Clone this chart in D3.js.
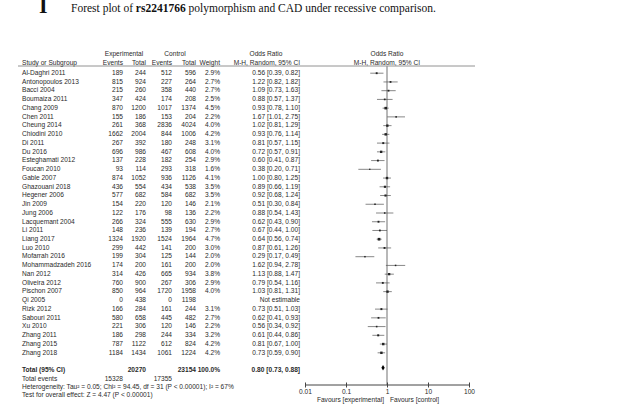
<!DOCTYPE html>
<html>
  <head>
    <meta charset="utf-8">
    <title>Forest plot rs2241766</title>
<style>
body { margin: 0; background: #fff; }
svg text { font-family: "Liberation Sans", Arial, sans-serif; fill: #2a2a2a; }
.title { font-family: "Liberation Serif", "Times New Roman", serif; fill: #111; }
.axis path, .axis line { stroke: #444; }
</style>
    <script src="https://d3js.org/d3.v7.min.js"></script>
  </head>
  <body>
    <script type="text/javascript">

    // study data
    var studies = ["Al-Daghri 2011", "Antonopoulos 2013", "Bacci 2004", "Boumaiza 2011", "Chang 2009",
      "Chen 2011", "Cheung 2014", "Chiodini 2010", "Di 2011", "Du 2016", "Esteghamati 2012",
      "Foucan 2010", "Gable 2007", "Ghazouani 2018", "Hegener 2006", "Jin 2009", "Jung 2006",
      "Lacquemant 2004", "Li 2011", "Liang 2017", "Luo 2010", "Mofarrah 2016", "Mohammadzadeh 2016",
      "Nan 2012", "Oliveira 2012", "Pischon 2007", "Qi 2005", "Rizk 2012", "Sabouri 2011",
      "Xu 2010", "Zhang 2011", "Zhang 2015", "Zhang 2018"];
    var expEvents = [189, 815, 215, 347, 870, 155, 261, 1662, 267, 696, 137, 93, 874, 436, 577, 154, 122,
      266, 148, 1324, 299, 199, 174, 314, 760, 850, 0, 166, 580, 221, 186, 787, 1184];
    var expTotal = [244, 924, 260, 424, 1200, 186, 368, 2004, 392, 986, 228, 114, 1052, 554, 682, 220, 176,
      324, 236, 1920, 442, 304, 200, 426, 900, 964, 438, 284, 658, 306, 298, 1122, 1434];
    var ctlEvents = [512, 227, 358, 174, 1017, 153, 2836, 844, 180, 467, 182, 293, 936, 434, 584, 120, 98,
      555, 139, 1524, 141, 125, 161, 665, 267, 1720, 0, 161, 445, 120, 244, 612, 1061];
    var ctlTotal = [596, 264, 440, 208, 1374, 204, 4024, 1006, 248, 608, 254, 318, 1126, 538, 682, 146, 136,
      630, 194, 1964, 200, 144, 200, 934, 306, 1958, 1198, 244, 482, 146, 334, 824, 1224];
    var weights = [2.9, 2.7, 2.7, 2.5, 4.5, 2.2, 4.0, 4.2, 3.1, 4.0, 2.9, 1.6, 4.1, 3.5, 3.5, 2.1, 2.2,
      2.9, 2.7, 4.7, 3.0, 2.0, 2.0, 3.8, 2.9, 4.0, null, 3.1, 2.7, 2.2, 3.2, 4.2, 4.2];
    var orVals = [0.56, 1.22, 1.09, 0.88, 0.93, 1.67, 1.02, 0.93, 0.81, 0.72, 0.60, 0.38, 1.00, 0.89, 0.92,
      0.51, 0.88, 0.62, 0.67, 0.64, 0.87, 0.29, 1.62, 1.13, 0.79, 1.03, null, 0.73, 0.62, 0.56, 0.61, 0.81, 0.73];
    var ciLow = [0.39, 0.82, 0.73, 0.57, 0.78, 1.01, 0.81, 0.76, 0.57, 0.57, 0.41, 0.20, 0.80, 0.66, 0.68,
      0.30, 0.54, 0.43, 0.44, 0.56, 0.61, 0.17, 0.94, 0.88, 0.54, 0.81, null, 0.51, 0.41, 0.34, 0.44, 0.67, 0.59];
    var ciHigh = [0.82, 1.82, 1.63, 1.37, 1.10, 2.75, 1.29, 1.14, 1.15, 0.91, 0.87, 0.71, 1.25, 1.19, 1.24,
      0.84, 1.43, 0.90, 1.00, 0.74, 1.26, 0.49, 2.78, 1.47, 1.16, 1.31, null, 1.03, 0.93, 0.92, 0.86, 1.00, 0.90];

    // pooled result
    var totalOR = [0.80, 0.73, 0.88];
    var totalCounts = [15328, 20270, 17355, 23154];
    var axisTicks = [0.01, 0.1, 1, 10, 100];

    var width = 621, height = 411;
    var fs = 6.6;

    var svg = d3.select("body").append("svg")
      .attr("width", width)
      .attr("height", height);

    // title
    svg.append("text").attr("class", "title")
      .attr("x", 39).attr("y", 13)
      .style("font-size", "22px").style("font-weight", "bold")
      .text("I");
    var t = svg.append("text").attr("class", "title")
      .attr("x", 71).attr("y", 12)
      .style("font-size", "11.5px");
    t.append("tspan").text("Forest plot of ");
    t.append("tspan").style("font-weight", "bold").text("rs2241766");
    t.append("tspan").text(" polymorphism and CAD under recessive comparison.");

    // columns
    var col = {name: 22, ee: 123, et: 146, ce: 172, ct: 196, w: 220, or: 300};

    var y = d3.scaleLinear().domain([0, studies.length - 1]).range([72.7, 352.3]);
    var x = d3.scaleLog().domain([0.01, 100]).range([305, 469]);

    function txt(xx, yy, s, anchor, bold) {
      return svg.append("text")
        .attr("x", xx).attr("y", yy).attr("dy", "0.35em")
        .attr("text-anchor", anchor || "start")
        .style("font-size", fs + "px")
        .style("font-weight", bold ? "bold" : null)
        .text(s);
    }

    // headers
    txt(124, 54, "Experimental", "middle");
    txt(175, 54, "Control", "middle");
    txt(266, 54, "Odds Ratio", "middle");
    txt(x(1), 54, "Odds Ratio", "middle");
    txt(col.name, 62.5, "Study or Subgroup");
    txt(col.ee, 62.5, "Events", "end");
    txt(col.et, 62.5, "Total", "end");
    txt(col.ce, 62.5, "Events", "end");
    txt(col.ct, 62.5, "Total", "end");
    txt(col.w, 62.5, "Weight", "end");
    txt(col.or, 62.5, "M-H, Random, 95% CI", "end");
    txt(x(1), 62.5, "M-H, Random, 95% CI", "middle");

    svg.append("line")
      .attr("x1", 18).attr("x2", 475)
      .attr("y1", 66).attr("y2", 66)
      .attr("stroke", "#777").attr("stroke-width", 0.8);

    // null line
    svg.append("line")
      .attr("x1", x(1)).attr("x2", x(1))
      .attr("y1", 66).attr("y2", 385)
      .attr("stroke", "#9a9a9a").attr("stroke-width", 1.4);

    // rows
    studies.forEach(function(s, i) {
      var yy = y(i);
      txt(col.name, yy, s);
      txt(col.ee, yy, expEvents[i], "end");
      txt(col.et, yy, expTotal[i], "end");
      txt(col.ce, yy, ctlEvents[i], "end");
      txt(col.ct, yy, ctlTotal[i], "end");
      if (weights[i] != null) {
        txt(col.w, yy, weights[i].toFixed(1) + "%", "end");
        txt(col.or, yy, orVals[i].toFixed(2) + " [" + ciLow[i].toFixed(2) + ", " + ciHigh[i].toFixed(2) + "]", "end");
      } else {
        txt(col.or, yy, "Not estimable", "end");
      }
    });

    // CI lines and boxes
    var idx = d3.range(studies.length).filter(function(i) { return orVals[i] != null; });
    svg.append("g").selectAll("line")
      .data(idx).enter().append("line")
      .attr("x1", function(i) { return x(ciLow[i]); })
      .attr("x2", function(i) { return x(ciHigh[i]); })
      .attr("y1", function(i) { return y(i) + 0.5; })
      .attr("y2", function(i) { return y(i) + 0.5; })
      .attr("stroke", "#555").attr("stroke-width", 0.7);
    svg.append("g").selectAll("rect")
      .data(idx).enter().append("rect")
      .attr("x", function(i) { return x(orVals[i]) - 0.3 - weights[i] * 0.22; })
      .attr("y", function(i) { return y(i) + 0.5 - 0.3 - weights[i] * 0.22; })
      .attr("width", function(i) { return 0.6 + weights[i] * 0.44; })
      .attr("height", function(i) { return 0.6 + weights[i] * 0.44; })
      .attr("fill", "#222");

    // totals
    var yt = 369.3;
    txt(col.name, yt, "Total (95% CI)", "start", true);
    txt(col.et, yt, totalCounts[1], "end", true);
    txt(col.ct, yt, totalCounts[3], "end", true);
    txt(col.w, yt, "100.0%", "end", true);
    txt(col.or, yt, totalOR[0].toFixed(2) + " [" + totalOR[1].toFixed(2) + ", " + totalOR[2].toFixed(2) + "]", "end", true);

    svg.append("path")
      .attr("d", "M" + x(totalOR[1]) + "," + (yt - 1.5) + " L" + x(totalOR[0]) + "," + (yt - 4.3) +
        " L" + x(totalOR[2]) + "," + (yt - 1.5) + " L" + x(totalOR[0]) + "," + (yt + 1.3) + "Z")
      .attr("fill", "#000");

    txt(col.name, 378.7, "Total events");
    txt(col.ee, 378.7, totalCounts[0], "end");
    txt(col.ce, 378.7, totalCounts[2], "end");
    txt(col.name, 386.7, "Heterogeneity: Tau\u00b2 = 0.05; Chi\u00b2 = 94.45, df = 31 (P < 0.00001); I\u00b2 = 67%");
    txt(col.name, 395, "Test for overall effect: Z = 4.47 (P < 0.00001)");

    // axis
    var axis = svg.append("g").attr("class", "axis")
      .attr("transform", "translate(0,385)")
      .call(d3.axisBottom(x).tickValues(axisTicks).tickSize(2.5)
        .tickFormat(function(d) { return d < 1 ? d3.format("")(d) : d; }));
    axis.selectAll(".tick line").attr("y1", -2.5);
    axis.select(".domain").attr("d", "M" + x(0.01) + ",0H" + x(100));
    axis.selectAll("text").style("font-size", fs + "px").attr("y", 4.2).attr("fill", "#2a2a2a");

    txt(x(1) - 3, 400, "Favours [experimental]", "end");
    txt(x(1) + 3, 400, "Favours [control]", "start");

    // next panel label, cut off at bottom
    svg.append("text").attr("class", "title")
      .attr("x", 39).attr("y", 425)
      .style("font-size", "22px").style("font-weight", "bold")
      .text("J");

    </script>
  </body>
</html>
